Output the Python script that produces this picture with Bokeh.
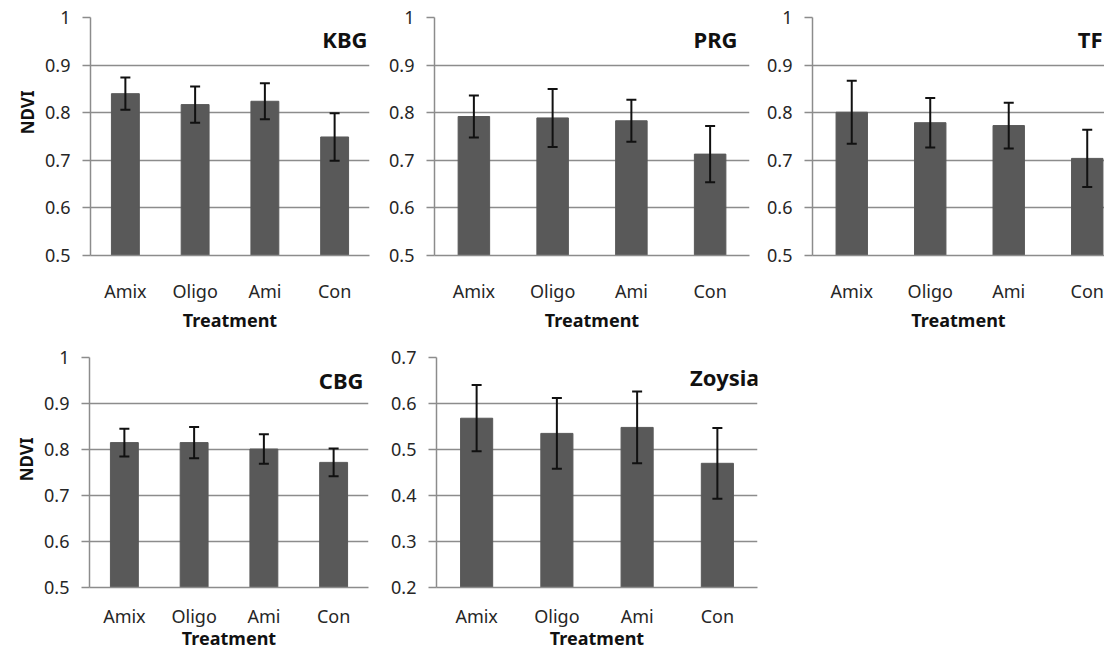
from bokeh.plotting import figure
from bokeh.layouts import column, row
from bokeh.models import (ColumnDataSource, Range1d, FixedTicker, Whisker,
                          TeeHead, Label, Title)
from bokeh.embed import file_html
from bokeh.resources import INLINE

# ---------------- data ----------------
categories = ["Amix", "Oligo", "Ami", "Con"]

kbg = [0.840, 0.817, 0.824, 0.749]
kbg_err = [0.034, 0.038, 0.038, 0.050]

prg = [0.792, 0.789, 0.783, 0.713]
prg_err = [0.044, 0.061, 0.044, 0.059]

tf = [0.801, 0.779, 0.773, 0.704]
tf_err = [0.066, 0.052, 0.048, 0.060]

cbg = [0.815, 0.815, 0.801, 0.772]
cbg_err = [0.030, 0.034, 0.032, 0.030]

zoysia = [0.568, 0.535, 0.548, 0.470]
zoysia_err = [0.072, 0.077, 0.078, 0.077]

ticks_a = [0.5, 0.6, 0.7, 0.8, 0.9, 1.0]
tick_labels_a = ["0.5", "0.6", "0.7", "0.8", "0.9", "1"]
ticks_z = [0.2, 0.3, 0.4, 0.5, 0.6, 0.7]
tick_labels_z = ["0.2", "0.3", "0.4", "0.5", "0.6", "0.7"]

x_axis_title = "Treatment"
y_axis_title = "NDVI"

# ---------------- style ----------------
FONT = "Noto Sans"
BAR = "#595959"
GRID = "#8c8c8c"
TXT = "#262626"


def make_panel(name, vals, errs, ticks, tick_labels, width, height,
               bl, br, bt, bb, x_end, title_off, title_y, ndvi_off=None,
               lab_standoff=23, title_standoff=2):
    xs = [i + 0.5 for i in range(len(categories))]
    src = ColumnDataSource(dict(
        x=xs, top=vals,
        upper=[v + e for v, e in zip(vals, errs)],
        lower=[v - e for v, e in zip(vals, errs)],
    ))
    p = figure(width=width, height=height, output_backend="svg",
               toolbar_location=None,
               x_range=Range1d(0, x_end),
               y_range=Range1d(ticks[0], ticks[-1]),
               min_border_left=bl, min_border_right=br,
               min_border_top=bt, min_border_bottom=bb)
    p.outline_line_color = None
    p.background_fill_color = "white"
    p.border_fill_color = "white"

    p.vbar(x="x", top="top", bottom=ticks[0], width=0.4, source=src,
           fill_color=BAR, line_color=BAR)
    w = Whisker(base="x", upper="upper", lower="lower", source=src,
                line_color="#111111", line_width=2, level="overlay",
                upper_head=TeeHead(size=10, line_color="#111111", line_width=2),
                lower_head=TeeHead(size=10, line_color="#111111", line_width=2))
    p.add_layout(w)

    # grid
    p.xgrid.visible = False
    p.ygrid.ticker = FixedTicker(ticks=ticks)
    p.ygrid.grid_line_color = GRID
    p.ygrid.grid_line_width = 1.5

    # y axis
    ya = p.yaxis[0]
    ya.ticker = FixedTicker(ticks=ticks)
    ya.major_label_overrides = {t: l for t, l in zip(ticks, tick_labels)}
    ya.axis_line_color = GRID
    ya.axis_line_width = 1.5
    ya.major_tick_line_color = GRID
    ya.major_tick_line_width = 1.5
    ya.major_tick_out = 8
    ya.major_tick_in = 0
    ya.minor_tick_line_color = None
    ya.major_label_standoff = 12
    ya.major_label_text_font = FONT
    ya.major_label_text_font_size = "18px"
    ya.major_label_text_color = TXT
    if ndvi_off is not None:
        p.add_layout(Title(text=y_axis_title, align="right", offset=ndvi_off,
                           standoff=8, text_font=FONT, text_font_style="bold",
                           text_font_size="17px", text_color="#111111"),
                     "left")

    # x axis
    xa = p.xaxis[0]
    xa.ticker = FixedTicker(ticks=xs)
    xa.major_label_overrides = {x: c for x, c in zip(xs, categories)}
    xa.axis_line_color = GRID
    xa.axis_line_width = 1.5
    xa.major_tick_line_color = None
    xa.minor_tick_line_color = None
    xa.major_tick_out = 0
    xa.major_tick_in = 0
    xa.major_label_standoff = lab_standoff
    xa.major_label_text_font = FONT
    xa.major_label_text_font_size = "18px"
    xa.major_label_text_color = TXT
    xa.axis_label = x_axis_title
    xa.axis_label_text_font = FONT
    xa.axis_label_text_font_style = "bold"
    xa.axis_label_text_font_size = "18px"
    xa.axis_label_text_color = "#111111"
    xa.axis_label_standoff = title_standoff

    p.add_layout(Label(x=x_end, y=title_y, x_offset=title_off, text=name,
                       text_align="right", text_baseline="middle",
                       text_font=FONT, text_font_style="bold",
                       text_font_size="22px", text_color="#111111"))
    return p


p1 = make_panel("KBG", kbg, kbg_err, ticks_a, tick_labels_a, 372, 340,
                90, 3, 17, 85, 4.0, -2, 0.954, ndvi_off=73)
p2 = make_panel("PRG", prg, prg_err, ticks_a, tick_labels_a, 380, 340,
                62, 3, 17, 85, 4.0, -12, 0.954)
p3 = make_panel("TF", tf, tf_err, ticks_a, tick_labels_a, 352, 340,
                60, 0, 17, 85, 3.72, -2, 0.954)
p4 = make_panel("CBG", cbg, cbg_err, ticks_a, tick_labels_a, 372, 312,
                89, 4, 17, 65, 4.0, -5, 0.952, ndvi_off=80,
                lab_standoff=16, title_standoff=-5)
p5 = make_panel("Zoysia", zoysia, zoysia_err, ticks_z, tick_labels_z, 395, 312,
                64, 10, 17, 65, 4.0, 2, 0.657,
                lab_standoff=16, title_standoff=-5)

layout = column(row(p1, p2, p3), row(p4, p5))
open("out.html", "w").write(file_html(layout, INLINE))
